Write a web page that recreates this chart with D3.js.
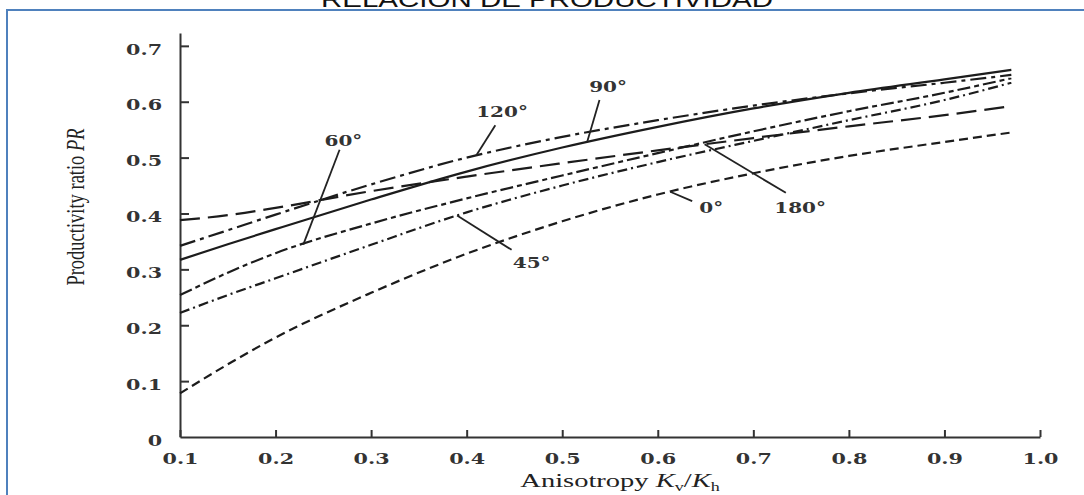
<!DOCTYPE html>
<html>
<head>
<meta charset="utf-8">
<script src="https://cdn.jsdelivr.net/npm/d3@7"></script>
<style>
  body { margin: 0; background: #fff; }
  svg { display: block; }
</style>
</head>
<body>
<div id="chart"></div>
<script>
// values
var kvkh = [0.1, 0.15, 0.2, 0.3, 0.4, 0.5, 0.6, 0.7, 0.8, 0.9, 0.97];
var pr0   = [0.078, 0.130, 0.178, 0.258, 0.328, 0.386, 0.434, 0.472, 0.503, 0.528, 0.545];
var pr45  = [0.222, 0.254, 0.284, 0.344, 0.402, 0.450, 0.492, 0.530, 0.567, 0.603, 0.634];
var pr60  = [0.254, 0.294, 0.329, 0.382, 0.427, 0.468, 0.508, 0.547, 0.583, 0.616, 0.642];
var pr90  = [0.317, 0.345, 0.372, 0.425, 0.475, 0.518, 0.555, 0.588, 0.616, 0.640, 0.657];
var pr120 = [0.342, 0.370, 0.398, 0.452, 0.500, 0.537, 0.567, 0.593, 0.615, 0.634, 0.648];
var pr180 = [0.388, 0.397, 0.410, 0.440, 0.466, 0.490, 0.513, 0.535, 0.556, 0.576, 0.592];

var angles = ["0°", "45°", "60°", "90°", "120°", "180°"];
var xTicks = [0.1, 0.2, 0.3, 0.4, 0.5, 0.6, 0.7, 0.8, 0.9, 1.0];
var yTicks = [0, 0.1, 0.2, 0.3, 0.4, 0.5, 0.6, 0.7];

// label spot and the x where each leader meets its curve (data units)
var labelX  = [0.656, 0.468, 0.271, 0.548, 0.437, 0.749];
var labelY  = [0.410, 0.311, 0.531, 0.626, 0.582, 0.410];
var leaderX = [0.636, 0.447, 0.267, 0.539, 0.430, 0.734];
var leaderY = [0.422, 0.335, 0.514, 0.603, 0.558, 0.437];
var hitX    = [0.613, 0.390, 0.229, 0.526, 0.410, 0.649];

var series = [pr0, pr45, pr60, pr90, pr120, pr180];
var dashes = ["9,5", "10,4,2,4", "13,4,5,4", null, "16,5,4,5", "20,8"];

var width = 1084, height = 495;
var stretch = 1.38; // the picture is wider than it is tall

var svg = d3.select("#chart")
    .append("svg")
    .attr("width", width)
    .attr("height", height);

// title, cut off at the top
svg.append("text")
    .attr("transform", "translate(547,7) scale(1.34,1)")
    .attr("text-anchor", "middle")
    .style("font-family", "'Liberation Sans', Arial, sans-serif")
    .style("font-size", "22px")
    .style("fill", "#111")
    .text("RELACIÓN DE PRODUCTIVIDAD");

// blue frame (left and top edges visible)
svg.append("path")
    .attr("d", "M7,495 L7,10 L1084,10")
    .attr("fill", "none")
    .attr("stroke", "#4f81bd")
    .attr("stroke-width", 2);

var x = d3.scaleLinear().domain([0.1, 1.0]).range([180, 1040]);
var y = d3.scaleLinear().domain([0, 0.723]).range([437, 33]);

var fmt = function(d) { return d === 0 ? "0" : d3.format(".1f")(d); };

// Y axis
var yAxis = svg.append("g")
    .attr("transform", "translate(180,0)")
    .call(d3.axisLeft(y).tickValues(yTicks).tickSize(-9).tickSizeOuter(0).tickPadding(13).tickFormat(fmt));

// X axis
var xAxis = svg.append("g")
    .attr("transform", "translate(0,437)")
    .call(d3.axisBottom(x).tickValues(xTicks).tickSize(-7).tickSizeOuter(0).tickPadding(16).tickFormat(fmt));

[yAxis, xAxis].forEach(function(a) {
    a.select(".domain").attr("stroke", "#333").attr("stroke-width", 2);
    a.selectAll(".tick line").attr("stroke", "#333").attr("stroke-width", 2);
    a.selectAll(".tick text")
        .style("font-family", "'DejaVu Serif', serif")
        .style("font-weight", "bold")
        .style("font-size", "15px")
        .style("fill", "#333")
        .attr("transform", "scale(" + stretch + ",1)");
});
yAxis.selectAll(".tick text").attr("dy", "0.55em");
// the zero tick on y sits on the x axis
yAxis.selectAll(".tick line").filter(function(d) { return d === 0; }).remove();

// axis titles
var yTitle = svg.append("text")
    .attr("transform", "translate(84,207) scale(1.35,1) rotate(-90)")
    .attr("text-anchor", "middle")
    .style("font-family", "'Liberation Serif', 'Times New Roman', serif")
    .style("font-size", "18.5px")
    .style("fill", "#222");
yTitle.append("tspan").text("Productivity ratio ");
yTitle.append("tspan").style("font-style", "italic").text("PR");

var xTitle = svg.append("text")
    .attr("transform", "translate(620,487) scale(1.5,1)")
    .attr("text-anchor", "middle")
    .style("font-family", "'Liberation Serif', 'Times New Roman', serif")
    .style("font-size", "19px")
    .style("fill", "#222");
xTitle.append("tspan").text("Anisotropy ");
xTitle.append("tspan").style("font-style", "italic").text("K");
xTitle.append("tspan").attr("dy", 4).style("font-size", "12px").text("v");
xTitle.append("tspan").attr("dy", -4).text("/");
xTitle.append("tspan").style("font-style", "italic").text("K");
xTitle.append("tspan").attr("dy", 4).style("font-size", "12px").text("h");

// curves
var line = d3.line()
    .x(function(d) { return x(d[0]); })
    .y(function(d) { return y(d[1]); })
    .curve(d3.curveMonotoneX);

series.forEach(function(s, i) {
    svg.append("path")
        .datum(kvkh.map(function(k, j) { return [k, s[j]]; }))
        .attr("d", line)
        .attr("fill", "none")
        .attr("stroke", "#1c1c1c")
        .attr("stroke-width", 2.2)
        .attr("stroke-dasharray", dashes[i]);
});

// leaders and angle labels
var valueAt = function(s, k) {
    var i = d3.bisectRight(kvkh, k) - 1;
    i = Math.max(0, Math.min(kvkh.length - 2, i));
    var t = (k - kvkh[i]) / (kvkh[i + 1] - kvkh[i]);
    return s[i] + t * (s[i + 1] - s[i]);
};

angles.forEach(function(a, i) {
    svg.append("line")
        .attr("x1", x(leaderX[i]))
        .attr("y1", y(leaderY[i]))
        .attr("x2", x(hitX[i]))
        .attr("y2", y(valueAt(series[i], hitX[i])))
        .attr("stroke", "#222")
        .attr("stroke-width", 1.8);
    svg.append("text")
        .attr("transform", "translate(" + x(labelX[i]) + "," + y(labelY[i]) + ") scale(" + stretch + ",1)")
        .attr("text-anchor", "middle")
        .attr("dy", "0.36em")
        .style("font-family", "'DejaVu Serif', serif")
        .style("font-weight", "bold")
        .style("font-size", "14.5px")
        .style("fill", "#333")
        .text(a);
});
</script>
</body>
</html>
